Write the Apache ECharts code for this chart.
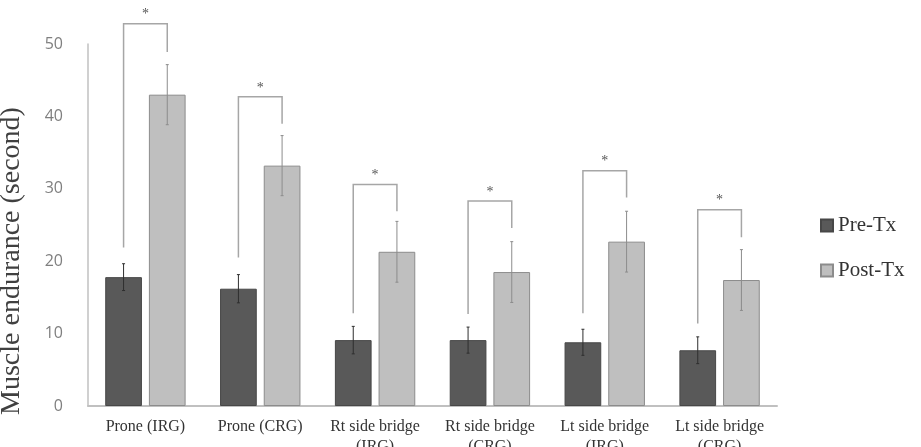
<!DOCTYPE html>
<html>
<head>
<meta charset="utf-8">
<script src="https://cdn.jsdelivr.net/npm/echarts@6/dist/echarts.min.js"></script>
<style>html,body{margin:0;padding:0;background:#fff;}#c{width:921px;height:447px;}</style>
</head>
<body>
<div id="c"></div>
<script>
var categories = ['Prone (IRG)', 'Prone (CRG)', 'Rt side bridge\n(IRG)', 'Rt side bridge\n(CRG)', 'Lt side bridge\n(IRG)', 'Lt side bridge\n(CRG)'];
var preTx = [17.8, 16.2, 9.1, 9.1, 8.8, 7.7];
var postTx = [43.0, 33.2, 21.3, 18.5, 22.7, 17.4];
var preErr = [1.85, 1.95, 1.9, 1.8, 1.8, 1.85];
var postErr = [4.15, 4.15, 4.2, 4.2, 4.2, 4.2];
var bracketTop = [52.8, 42.7, 30.6, 28.3, 32.5, 27.1];
var bracketLeftEnd = [21.9, 20.5, 12.8, 12.7, 12.8, 11.4];
var bracketRightEnd = [48.9, 39.0, 26.9, 24.6, 28.8, 23.3];
var sigMarks = ['*', '*', '*', '*', '*', '*'];
var yTicks = [0, 10, 20, 30, 40, 50];

var GAP = 0.19, CATGAP = 0.30;
function barOffset(api) {
  var bw = api.size([1, 0])[0];
  var w = bw * (1 - CATGAP) / (2 + GAP);
  return (w + GAP * w) / 2;
}

function errItem(sign, color) {
  return function (params, api) {
    var i = api.value(0), v = api.value(1), e = api.value(2);
    var off = barOffset(api) * sign;
    var top = api.coord([i, v + e]);
    var bot = api.coord([i, v - e]);
    var x = top[0] + off;
    var st = { stroke: color, lineWidth: 1 };
    return { type: 'group', children: [
      { type: 'line', shape: { x1: x, y1: top[1], x2: x, y2: bot[1] }, style: st },
      { type: 'line', shape: { x1: x - 1.5, y1: top[1], x2: x + 1.5, y2: top[1] }, style: st },
      { type: 'line', shape: { x1: x - 1.5, y1: bot[1], x2: x + 1.5, y2: bot[1] }, style: st }
    ] };
  };
}

function bracketItem(params, api) {
  var i = api.value(0);
  var off = barOffset(api);
  var t = api.coord([i, api.value(1)]);
  var l = api.coord([i, api.value(2)]);
  var r = api.coord([i, api.value(3)]);
  var xl = t[0] - off, xr = t[0] + off;
  return { type: 'group', children: [
    { type: 'polyline', shape: { points: [[xl, l[1]], [xl, t[1]], [xr, t[1]], [xr, r[1]]] },
      style: { stroke: '#a6a6a6', lineWidth: 1.5, fill: null } },
    { type: 'text', x: (xl + xr) / 2, y: t[1] - 9,
      style: { text: sigMarks[params.dataIndex], fill: '#555', font: '14px "Liberation Serif"', align: 'center', verticalAlign: 'middle' } }
  ] };
}

var chart = echarts.init(document.getElementById('c'), null, { renderer: 'canvas' });
chart.setOption({
  animation: false,
  backgroundColor: '#fff',
  grid: { left: 88, right: 144, top: 44, bottom: 41, containLabel: false, outerBoundsMode: 'none' },
  legend: {
    data: ['Pre-Tx', 'Post-Tx'],
    orient: 'vertical', left: 815, top: 210,
    itemWidth: 12, itemHeight: 12, itemGap: 24,
    icon: 'rect',
    textStyle: { fontFamily: 'Liberation Serif', fontSize: 21, color: '#333' }
  },
  xAxis: {
    type: 'category', data: categories,
    axisLine: { lineStyle: { color: '#c0c0c0', width: 2 } },
    axisTick: { show: false },
    axisLabel: { interval: 0, margin: 11, color: '#333', fontFamily: 'Liberation Serif', fontSize: 16, lineHeight: 20 }
  },
  yAxis: {
    type: 'value', min: 0, max: 50, interval: 10,
    name: 'Muscle endurance (second)', nameLocation: 'middle', nameGap: 62, nameRotate: 90,
    nameTextStyle: { fontFamily: 'Liberation Serif', fontSize: 28, color: '#404040', padding: [0, 72, 0, 0] },
    axisLine: { show: true, lineStyle: { color: '#c0c0c0', width: 1.5 } },
    axisTick: { show: false },
    splitLine: { show: false },
    axisLabel: { margin: 25, color: '#7f7f7f', fontFamily: 'Open Sans', fontSize: 16,
      formatter: function (v) { return yTicks.indexOf(v) >= 0 ? String(v) : ''; } }
  },
  series: [
    { name: 'Pre-Tx', type: 'bar', data: preTx, barGap: '19%', barCategoryGap: '30%',
      itemStyle: { color: '#595959', borderColor: '#474747', borderWidth: 1 } },
    { name: 'Post-Tx', type: 'bar', data: postTx, barGap: '19%', barCategoryGap: '30%',
      itemStyle: { color: '#bfbfbf', borderColor: '#8c8c8c', borderWidth: 1 } },
    { type: 'custom', name: 'preErr', clip: false, z: 5,
      data: preTx.map(function (v, i) { return [i, v, preErr[i]]; }),
      renderItem: errItem(-1, '#2e2e2e') },
    { type: 'custom', name: 'postErr', clip: false, z: 5,
      data: postTx.map(function (v, i) { return [i, v, postErr[i]]; }),
      renderItem: errItem(1, '#8c8c8c') },
    { type: 'custom', name: 'brackets', clip: false, z: 5,
      data: bracketTop.map(function (v, i) { return [i, v, bracketLeftEnd[i], bracketRightEnd[i]]; }),
      renderItem: bracketItem }
  ]
});
</script>
</body>
</html>
